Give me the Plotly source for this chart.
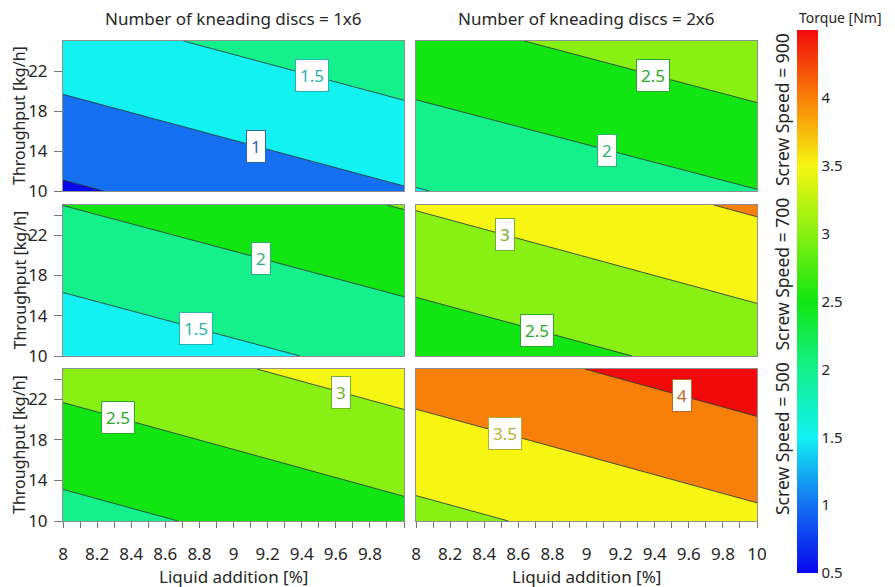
import plotly.graph_objects as go

# ---------------- data ----------------
liquid_addition = [8.0, 10.0]          # x grid [%]
throughput = [10.0, 25.0]              # y grid [kg/h]
disc_configs = ["1x6", "2x6"]
screw_speeds = [900, 700, 500]

# torque [Nm] at the grid corners: rows = throughput, cols = liquid addition
torque_1x6_900 = [[0.436, 0.971], [1.311, 1.846]]
torque_2x6_900 = [[1.480, 1.990], [2.335, 2.855]]
torque_1x6_700 = [[1.135, 1.660], [2.003, 2.526]]
torque_2x6_700 = [[2.161, 2.696], [3.033, 3.568]]
torque_1x6_500 = [[1.818, 2.358], [2.693, 3.233]]
torque_2x6_500 = [[2.853, 3.395], [3.732, 4.274]]

torque_panels = [
    [torque_1x6_900, torque_2x6_900],
    [torque_1x6_700, torque_2x6_700],
    [torque_1x6_500, torque_2x6_500],
]

contour_levels = [0.5, 1.0, 1.5, 2.0, 2.5, 3.0, 3.5, 4.0, 4.5]
colorbar_ticks = [0.5, 1, 1.5, 2, 2.5, 3, 3.5, 4]
y_ticks = [10, 14, 18, 22]
x_ticks = [round(8 + 0.1 * k, 1) for k in range(21)]

# labelled contour levels per panel
label_levels = [
    [[1.0, 1.5], [2.0, 2.5]],
    [[1.5, 2.0], [2.5, 3.0]],
    [[2.5, 3.0], [3.5, 4.0]],
]

# ---------------- styling ----------------
FONT = "Noto Sans"
SW, SH = 895, 587          # screenshot size
OFF = 8                    # page body margin
W, H = SW - OFF, SH - OFF  # figure size


def px(sx):
    return (sx - OFF) / W


def py(sy):
    return 1 - (sy - OFF) / H


level_colors = ["#0808EE", "#1470F0", "#12F2F2", "#14F08C", "#12E612",
                "#88F012", "#F6F612", "#F88008", "#F20A0A"]
label_x_pos = [
    [[9.13, 9.46], [9.12, 9.39]],
    [[8.78, 9.16], [8.71, 8.52]],
    [[8.32, 9.63], [8.52, 9.56]],
]
col_px = [(63, 404), (416, 757)]
row_px = [(41, 191), (205, 356), (369, 521)]


def hex_rgb(h):
    h = h.lstrip("#")
    return tuple(int(h[i:i + 2], 16) for i in (0, 2, 4))


def darker(h, f=0.4, base=(80, 80, 80)):
    r, g, b = hex_rgb(h)
    return "rgb(%d,%d,%d)" % (r * (1 - f) + base[0] * f, g * (1 - f) + base[1] * f, b * (1 - f) + base[2] * f)


# discrete colourscale for the filled bands: band [L, L+0.5] gets colour at L+0.5
n = len(contour_levels)
band_scale = []
for k in range(n + 1):
    c = level_colors[min(k, n - 1)]
    band_scale.append([k / n, c])
# continuous colourscale for the colour bar
lo, hi = contour_levels[0], contour_levels[-1]
cont_scale = [[(v - lo) / (hi - lo), c] for v, c in zip(contour_levels, level_colors)]

fig = go.Figure()
layout = dict(width=W, height=H, margin=dict(l=0, r=0, t=0, b=0, autoexpand=False),
              paper_bgcolor="white", plot_bgcolor="white",
              font=dict(family=FONT, size=17, color="#262626"),
              showlegend=False)
annotations = []


def paper_note(sx, sy, text, size=17, angle=0):
    annotations.append(dict(x=px(sx), y=py(sy), xref="paper", yref="paper",
                            xanchor="center", yanchor="middle", text=text,
                            showarrow=False, textangle=angle, font=dict(size=size)))


for r in range(3):
    for c in range(2):
        i = r * 2 + c + 1
        xa = "x" if i == 1 else "x%d" % i
        ya = "y" if i == 1 else "y%d" % i
        z = torque_panels[r][c]
        fig.add_trace(go.Contour(
            x=liquid_addition, y=throughput, z=z,
            xaxis=xa, yaxis=ya,
            autocontour=False,
            contours=dict(start=contour_levels[0], end=contour_levels[-1],
                          size=0.5, coloring="fill", showlabels=False),
            colorscale=band_scale, showscale=False,
            line=dict(color="rgba(40,60,60,0.85)", width=1),
            hoverinfo="skip",
        ))
        x0, x1 = col_px[c]
        t, b = row_px[r]
        xdom = [px(x0), px(x1)]
        ydom = [py(b), py(t)]
        bottom = r == 2
        left = c == 0
        if bottom:
            texts = []
            for v in x_ticks:
                k = round((v - 8) * 10)
                if k % 2 == 0 and not (left and v == 10.0):
                    texts.append("%g" % v)
                else:
                    texts.append("")
            xaxis = dict(domain=xdom, anchor=ya, range=[8, 10],
                         tickvals=x_ticks, ticktext=texts, ticks="outside",
                         ticklen=6, tickcolor="#777", ticklabelstandoff=12,
                         tickfont=dict(size=17))
        else:
            xaxis = dict(domain=xdom, anchor=ya, range=[8, 10],
                         showticklabels=False, ticks="")
        xaxis.update(showline=True, mirror=True, linecolor="#8f8f8f", linewidth=1,
                     showgrid=False, zeroline=False)
        if left:
            yv = list(y_ticks) + ([24] if r > 0 else [])
            yt = ["%d" % v for v in y_ticks] + ([""] if r > 0 else [])
            yaxis = dict(domain=ydom, anchor=xa, range=[10, 25],
                         tickvals=yv, ticktext=yt, ticks="outside", ticklen=8,
                         tickcolor="#777", ticklabelstandoff=3,
                         tickfont=dict(size=17))
        else:
            yaxis = dict(domain=ydom, anchor=xa, range=[10, 25],
                         showticklabels=False, ticks="")
        yaxis.update(showline=True, mirror=True, linecolor="#8f8f8f", linewidth=1,
                     showgrid=False, zeroline=False)
        layout["xaxis" if i == 1 else "xaxis%d" % i] = xaxis
        layout["yaxis" if i == 1 else "yaxis%d" % i] = yaxis

        # contour labels placed on the contour line (solve the bilinear surface)
        for lev, lx in zip(label_levels[r][c], label_x_pos[r][c]):
            u = (lx - liquid_addition[0]) / (liquid_addition[1] - liquid_addition[0])
            z00, z10 = z[0]
            z01, z11 = z[1]
            base = z00 * (1 - u) + z10 * u
            slope = (z01 - z00) * (1 - u) + (z11 - z10) * u
            v = (lev - base) / slope
            ly = throughput[0] + v * (throughput[1] - throughput[0])
            col = darker(level_colors[contour_levels.index(lev)])
            annotations.append(dict(
                x=lx, y=ly, xref=xa, yref=ya, xanchor="center", yanchor="middle",
                text="%g" % lev, showarrow=False,
                font=dict(size=17, color=col), bgcolor="white",
                bordercolor=col, borderwidth=1, borderpad=4))

# colour bar (dummy invisible trace)
fig.add_trace(go.Scatter(
    x=[9, 9], y=[17, 17], mode="markers", xaxis="x", yaxis="y",
    marker=dict(color=[lo, hi], colorscale=cont_scale, cmin=lo, cmax=hi, opacity=0,
                showscale=True,
                colorbar=dict(x=px(797), xanchor="left", xpad=0, ypad=0,
                              y=py(30), yanchor="top", len=543 / H, lenmode="fraction",
                              thickness=21, thicknessmode="pixels", outlinewidth=0,
                              ticks="", tickvals=colorbar_ticks,
                              ticktext=["%g" % v for v in colorbar_ticks],
                              tickfont=dict(size=15, color="#262626"))),
    hoverinfo="skip"))

# column titles and x-axis titles
for c, d in enumerate(disc_configs):
    cx = (col_px[c][0] + col_px[c][1]) / 2
    paper_note(cx, 18, "Number of kneading discs = %s" % d)
    paper_note(cx, 576, "Liquid addition [%]")
# row labels and y-axis titles
for r, s in enumerate(screw_speeds):
    cy = (row_px[r][0] + row_px[r][1]) / 2
    paper_note(19, cy, "Throughput [kg/h]", size=16, angle=-90)
    paper_note(782, cy - 6, "Screw Speed = %d" % s, size=17.5, angle=-90)
paper_note(840, 17, "Torque [Nm]", size=14)

layout["annotations"] = annotations
fig.update_layout(**layout)
fig.write_html("out.html")
